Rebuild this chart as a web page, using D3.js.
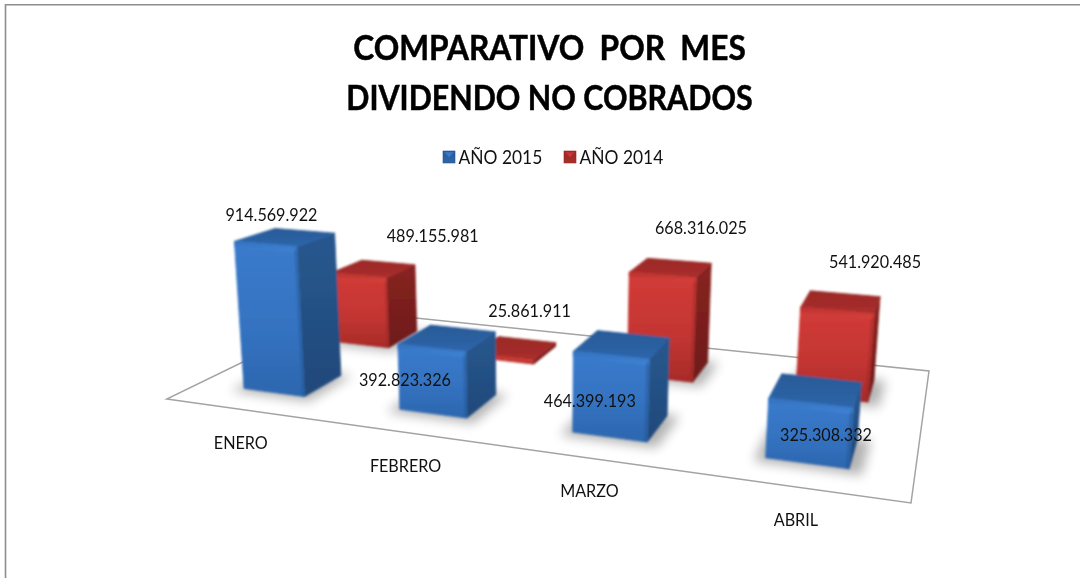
<!DOCTYPE html>
<html>
<head>
<meta charset="utf-8">
<script src="https://cdn.jsdelivr.net/npm/d3@7"></script>
<style>
  html, body { margin: 0; padding: 0; background: #fff; }
  svg { display: block; }
  text { font-family: Lato, "Open Sans", sans-serif; fill: #111; }
</style>
</head>
<body>
<div id="chart"></div>
<script>
var titleLines = ["COMPARATIVO  POR  MES", "DIVIDENDO NO COBRADOS"];
var categories = ["ENERO", "FEBRERO", "MARZO", "ABRIL"];
var seriesNames = ["AÑO 2015", "AÑO 2014"];
var values2015 = [914569922, 392823326, 464399193, 325308332];
var values2014 = [489155981, 25861911, 668316025, 541920485];

var width = 1080, height = 578;

// corners of the floor on screen: front left, front right, back right, back left
var floor = [[166.7, 399], [911, 503], [929, 371], [348, 311]];
// where the uprights of the bars meet, far below the picture
var vanish = [540, 4900];
var depthPerUnit = -0.0355;

// label nudges from the top centre of each bar (hand placed in the original)
var labelShift2015 = [[-14, -16], [-42.5, 48], [-32.5, 63], [10, 51]];
var labelShift2014 = [[59, -27], [14, -31], [30, -34], [34, -34]];
var titleSqueeze = [0.93, 0.895];

var svg = d3.select("#chart").append("svg")
    .attr("width", width)
    .attr("height", height);

var defs = svg.append("defs");

function addGradient(id, stops) {
  var grad = defs.append("linearGradient")
      .attr("id", id)
      .attr("x1", 0).attr("y1", 0)
      .attr("x2", 0).attr("y2", 1);
  stops.forEach(function(s) {
    grad.append("stop").attr("offset", s[0]).attr("stop-color", s[1]);
  });
}

addGradient("blueFront", [[0, "#3b7bcc"], [0.55, "#3473c1"], [1, "#2c66ae"]]);
addGradient("blueSide", [[0, "#28588f"], [1, "#20487a"]]);
addGradient("blueTop", [[0, "#285a97"], [1, "#2e66aa"]]);
addGradient("blueBevel", [[0, "#3372bf"], [1, "#3f82d4"]]);
addGradient("redFront", [[0, "#d23b38"], [0.55, "#c43633"], [1, "#a82b28"]]);
addGradient("redSide", [[0, "#882321"], [1, "#6e1b19"]]);
addGradient("redTop", [[0, "#9a2927"], [1, "#aa2e2b"]]);
addGradient("redBevel", [[0, "#b9322e"], [1, "#d8403c"]]);

var seriesStyle = [
  {front: "blueFront", side: "blueSide", top: "blueTop", bevel: "blueBevel", edge: "#245490"},
  {front: "redFront", side: "redSide", top: "redTop", bevel: "redBevel", edge: "#9a2825"}
];

defs.append("filter").attr("id", "soft")
    .attr("x", "-40%").attr("y", "-40%").attr("width", "180%").attr("height", "180%")
    .append("feGaussianBlur").attr("stdDeviation", 6);
defs.append("filter").attr("id", "smooth")
    .attr("x", "-5%").attr("y", "-5%").attr("width", "110%").attr("height", "110%")
    .append("feGaussianBlur").attr("stdDeviation", 0.8);

// unit square -> floor on screen
var dx1 = floor[1][0] - floor[2][0], dx2 = floor[3][0] - floor[2][0],
    dy1 = floor[1][1] - floor[2][1], dy2 = floor[3][1] - floor[2][1],
    sx = floor[0][0] - floor[1][0] + floor[2][0] - floor[3][0],
    sy = floor[0][1] - floor[1][1] + floor[2][1] - floor[3][1],
    den = dx1 * dy2 - dx2 * dy1,
    g = (sx * dy2 - dx2 * sy) / den,
    h = (dx1 * sy - sx * dy1) / den,
    a = floor[1][0] - floor[0][0] + g * floor[1][0],
    b = floor[3][0] - floor[0][0] + h * floor[3][0],
    c = floor[0][0],
    d = floor[1][1] - floor[0][1] + g * floor[1][1],
    e = floor[3][1] - floor[0][1] + h * floor[3][1],
    f = floor[0][1];

function project(u, v, t) {
  var w = g * u + h * v + 1 + depthPerUnit * t;
  return [
    (a * u + b * v + c + vanish[0] * depthPerUnit * t) / w,
    (d * u + e * v + f + vanish[1] * depthPerUnit * t) / w
  ];
}

var xBand = d3.scaleBand().domain(categories).range([0, 1]).paddingInner(0.6).paddingOuter(0.3);
var zBand = d3.scaleBand().domain(seriesNames).range([0, 1]).paddingInner(0.6).paddingOuter(0.3);
var yValue = d3.scaleLinear().domain([0, 1e9]).range([0, 1]);
var labelFormat = function(n) { return d3.format(",")(n).replace(/,/g, "."); };

function poly(points) {
  return d3.line()(points) + "Z";
}

// Lato runs wider than the original face, so squeeze each text a little
function squeeze(sel, k) {
  sel.each(function(dd, i) {
    var factor = typeof k === "number" ? k : k[i];
    d3.select(this)
      .attr("textLength", this.getComputedTextLength() * factor)
      .attr("lengthAdjust", "spacingAndGlyphs");
  });
}

// border of the picture: only top and left were visible
svg.append("path")
    .attr("d", "M5.5," + height + "V4.8H" + width)
    .attr("fill", "none")
    .attr("stroke", "#8e8e8e")
    .attr("stroke-width", 1.6);

// floor
svg.append("path")
    .attr("d", poly([project(0, 0, 0), project(1, 0, 0), project(1, 1, 0), project(0, 1, 0)]))
    .attr("fill", "#fff")
    .attr("stroke", "#a3a3a3")
    .attr("stroke-width", 1.5);

var bars = [];
[values2014, values2015].forEach(function(vals) {
  var si = vals === values2015 ? 0 : 1;
  var shifts = si === 0 ? labelShift2015 : labelShift2014;
  categories.forEach(function(cat, i) {
    bars.push({cat: cat, series: si, value: vals[i], shift: shifts[i]});
  });
});

bars.forEach(function(o) {
  o.u0 = xBand(o.cat);
  o.u1 = o.u0 + xBand.bandwidth();
  o.v0 = zBand(seriesNames[o.series]);
  o.v1 = o.v0 + zBand.bandwidth();
  o.t = yValue(o.value);
});

// soft shadow on the floor
svg.append("g").attr("class", "shadows")
  .selectAll("path")
  .data(bars)
  .enter().append("path")
    .attr("d", function(o) {
      return poly([
        project(o.u0 - 0.012, o.v0 - 0.03, 0),
        project(o.u1 + 0.016, o.v0 - 0.03, 0),
        project(o.u1 + 0.016, o.v1 + 0.01, 0),
        project(o.u0 - 0.012, o.v1 + 0.01, 0)
      ]);
    })
    .attr("fill", "#000")
    .attr("opacity", function(o) { return o.t < 0.05 ? 0 : 0.3; })
    .attr("filter", "url(#soft)");

var barG = svg.append("g").attr("class", "bars").attr("filter", "url(#smooth)")
  .selectAll("g")
  .data(bars)
  .enter().append("g");

function addFace(fill, pointsFn) {
  barG.append("path")
      .attr("d", function(o) { return poly(pointsFn(o)); })
      .attr("fill", function(o) { return fill(o); })
      .attr("stroke", function(o) { return fill(o); })
      .attr("stroke-width", 0.8)
      .attr("stroke-linejoin", "round");
}

function url(key) {
  return function(o) { return "url(#" + seriesStyle[o.series][key] + ")"; };
}
function bevelOf(o) { return Math.min(0.03, o.t * 0.35); }

addFace(url("side"), function(o) {
  return [project(o.u1, o.v0, 0), project(o.u1, o.v1, 0), project(o.u1, o.v1, o.t), project(o.u1, o.v0, o.t)];
});
addFace(url("top"), function(o) {
  return [project(o.u0, o.v0, o.t), project(o.u1, o.v0, o.t), project(o.u1, o.v1, o.t), project(o.u0, o.v1, o.t)];
});
addFace(url("front"), function(o) {
  return [project(o.u0, o.v0, 0), project(o.u1, o.v0, 0), project(o.u1, o.v0, o.t), project(o.u0, o.v0, o.t)];
});
// rounded lip along the top of the front face
addFace(url("bevel"), function(o) {
  var s = bevelOf(o);
  return [project(o.u0, o.v0, o.t - s), project(o.u1, o.v0, o.t - s), project(o.u1, o.v0, o.t), project(o.u0, o.v0, o.t)];
});
// faint darker lip down the right edge of the front face
barG.append("path")
    .attr("d", function(o) {
      var s = bevelOf(o);
      return poly([project(o.u1 - 0.004, o.v0, 0), project(o.u1, o.v0, 0), project(o.u1, o.v0, o.t), project(o.u1 - 0.004, o.v0, o.t - s)]);
    })
    .attr("fill", function(o) { return seriesStyle[o.series].edge; })
    .attr("opacity", 0.45);

// data labels
svg.append("g").attr("class", "labels")
  .selectAll("text")
  .data(bars)
  .enter().append("text")
    .attr("x", function(o) {
      return project((o.u0 + o.u1) / 2, (o.v0 + o.v1) / 2, o.t)[0] + o.shift[0];
    })
    .attr("y", function(o) {
      return project((o.u0 + o.u1) / 2, (o.v0 + o.v1) / 2, o.t)[1] + o.shift[1];
    })
    .attr("text-anchor", "middle")
    .attr("font-size", 17.2)
    .text(function(o) { return labelFormat(o.value); })
    .call(squeeze, 0.94);

// category labels hang under the front edge of the floor
svg.append("g").attr("class", "categories")
  .selectAll("text")
  .data(categories)
  .enter().append("text")
    .attr("x", function(cat) { return project(xBand(cat) + xBand.bandwidth() / 2, 0, 0)[0] - 2; })
    .attr("y", function(cat) { return project(xBand(cat) + xBand.bandwidth() / 2, 0, 0)[1] + 39; })
    .attr("text-anchor", "middle")
    .attr("font-size", 17.2)
    .text(function(cat) { return cat; })
    .call(squeeze, 0.94);

// title
svg.append("g").attr("class", "title")
  .selectAll("text")
  .data(titleLines)
  .enter().append("text")
    .attr("x", 549.5)
    .attr("y", function(t, i) { return 60 + i * 50; })
    .attr("text-anchor", "middle")
    .attr("font-size", 34)
    .attr("font-weight", 700)
    .style("white-space", "pre")
    .style("fill", "#000")
    .style("stroke", "#000")
    .style("stroke-width", 0.5)
    .text(function(t) { return t; })
    .call(squeeze, titleSqueeze);

// legend
var legendX = d3.scaleOrdinal().domain(seriesNames).range([443, 564]);
var legend = svg.append("g").attr("class", "legend")
  .selectAll("g")
  .data(seriesNames)
  .enter().append("g")
    .attr("transform", function(n) { return "translate(" + legendX(n) + ",151)"; });

legend.append("rect")
    .attr("width", 12).attr("height", 12)
    .attr("fill", function(n, i) { return "url(#" + seriesStyle[i].top + ")"; })
    .attr("stroke", function(n, i) { return seriesStyle[i].edge; })
    .attr("stroke-width", 0.6);
legend.append("path")
    .attr("d", "M1,1H11L6,6Z")
    .attr("fill", function(n, i) { return "url(#" + seriesStyle[i].bevel + ")"; });
legend.append("text")
    .attr("x", 15.5)
    .attr("y", 13)
    .attr("font-size", 18.5)
    .text(function(n) { return n; })
    .call(squeeze, 0.94);
</script>
</body>
</html>
